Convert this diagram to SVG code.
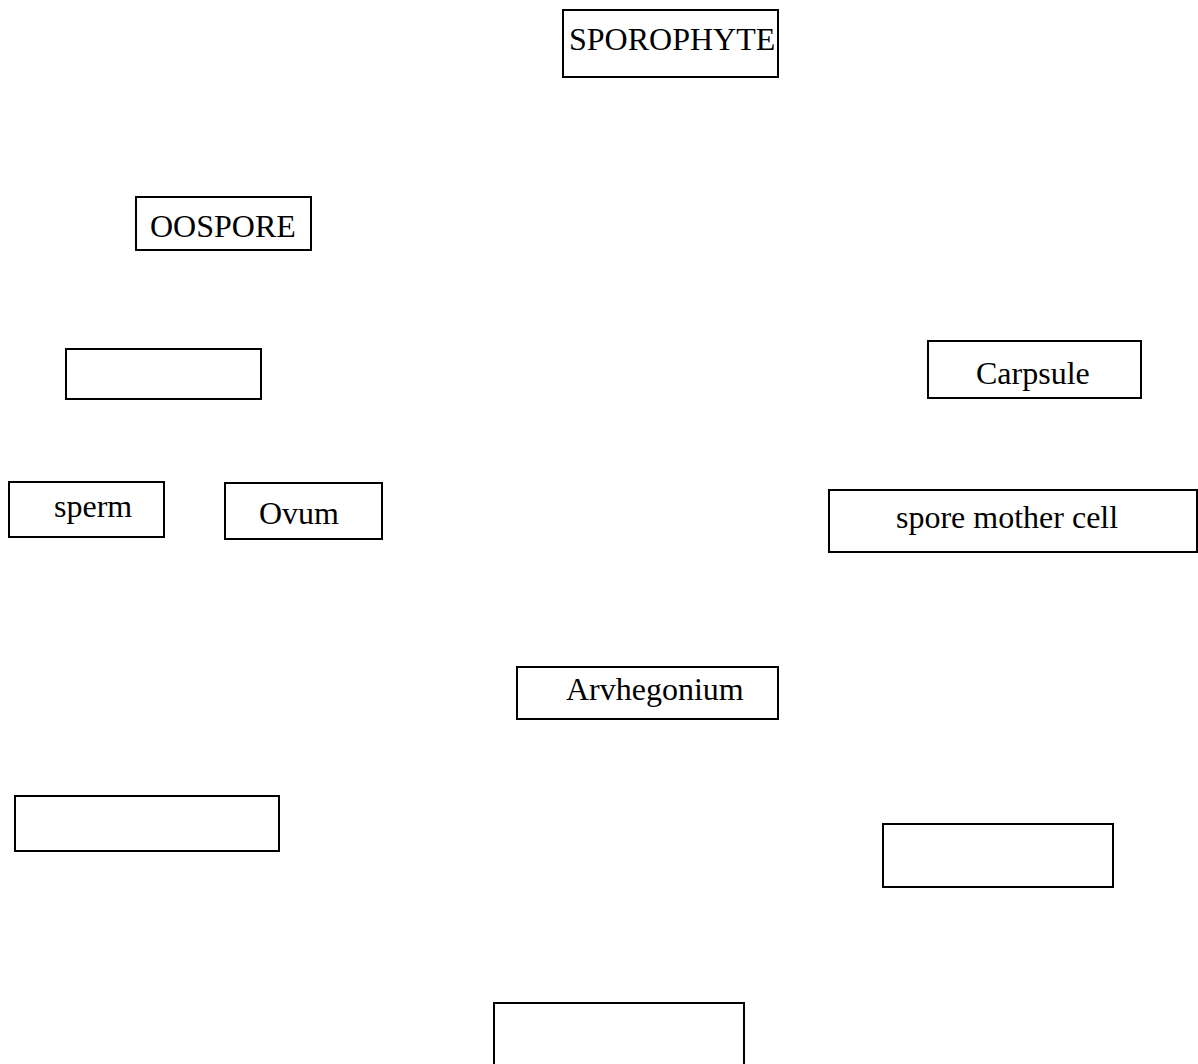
<svg xmlns="http://www.w3.org/2000/svg" width="1198" height="1064" viewBox="0 0 1198 1064">
  <style>
    .box { fill: #ffffff; stroke: #000000; stroke-width: 2; }
    .lbl { font-family: "Liberation Serif", "Times New Roman", serif; font-size: 32px; fill: #000000; }
  </style>
  <rect width="1198" height="1064" fill="#ffffff"/>
  <g id="connectors"></g>
  <g id="sporophyte">
    <rect class="box" x="563" y="10" width="215" height="67"/>
    <text class="lbl" x="569" y="50">SPOROPHYTE</text>
  </g>
  <g id="oospore">
    <rect class="box" x="136" y="197" width="175" height="53"/>
    <text class="lbl" x="150" y="237">OOSPORE</text>
  </g>
  <g id="blank-1">
    <rect class="box" x="66" y="349" width="195" height="50"/>
  </g>
  <g id="carpsule">
    <rect class="box" x="928" y="341" width="213" height="57"/>
    <text class="lbl" x="976" y="384">Carpsule</text>
  </g>
  <g id="sperm">
    <rect class="box" x="9" y="482" width="155" height="55"/>
    <text class="lbl" x="54" y="517">sperm</text>
  </g>
  <g id="ovum">
    <rect class="box" x="225" y="483" width="157" height="56"/>
    <text class="lbl" x="259" y="524">Ovum</text>
  </g>
  <g id="spore-mother-cell">
    <rect class="box" x="829" y="490" width="368" height="62"/>
    <text class="lbl" x="896" y="528">spore mother cell</text>
  </g>
  <g id="arvhegonium">
    <rect class="box" x="517" y="667" width="261" height="52"/>
    <text class="lbl" x="566" y="700">Arvhegonium</text>
  </g>
  <g id="blank-2">
    <rect class="box" x="15" y="796" width="264" height="55"/>
  </g>
  <g id="blank-3">
    <rect class="box" x="883" y="824" width="230" height="63"/>
  </g>
  <g id="blank-4">
    <rect class="box" x="494" y="1003" width="250" height="80"/>
  </g>
</svg>
